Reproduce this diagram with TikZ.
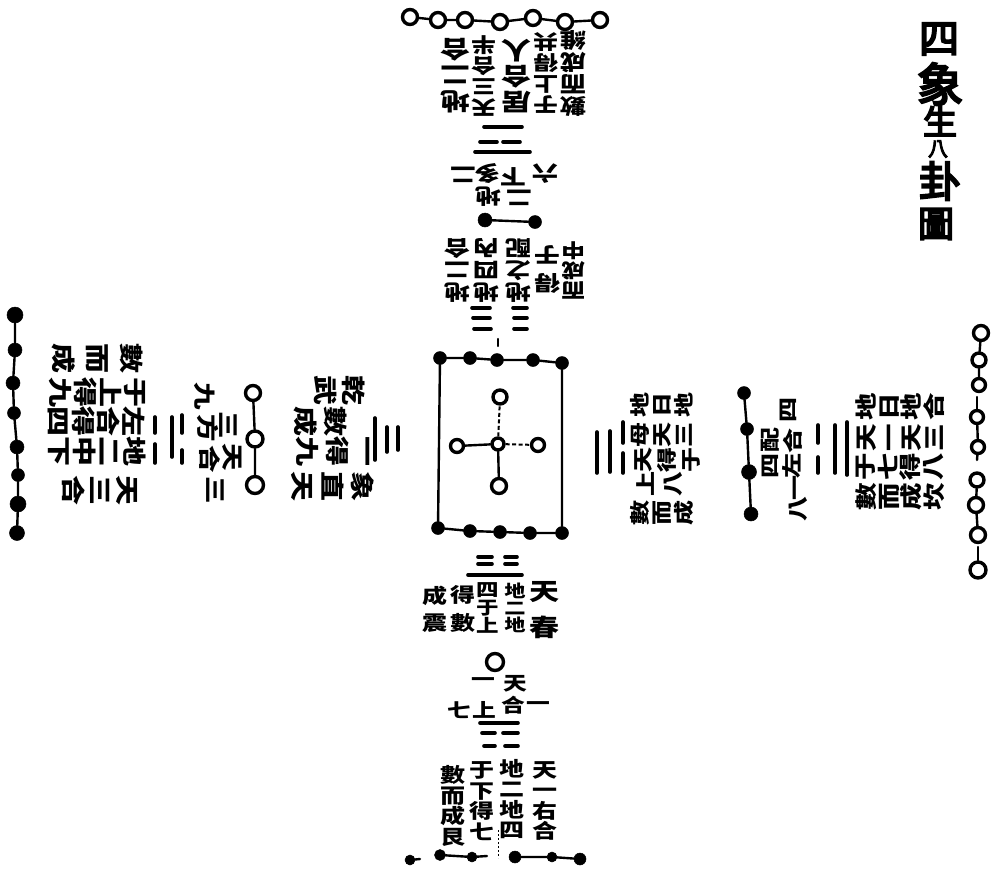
\documentclass[tikz,border=0pt]{standalone}
\usepackage{fontspec}
\newfontfamily\cjkb{Noto Sans CJK TC}[FakeStretch=1.25]
\newfontfamily\cjkt{Noto Sans CJK TC}[FakeBold=5]
\lineskiplimit=-1000pt
\newcommand\cjfont[2]{\cjkb\bfseries\fontsize{#1}{#2}\selectfont}
\newcommand\ttfont[1]{\cjkt\fontsize{#1}{#1}\selectfont}
\tikzset{
  cj/.style 2 args={font=\cjfont{#1}{#2},align=center,inner sep=0pt},
  ttl/.style={font=\ttfont{#1},inner sep=0pt},
  openc/.style={circle,draw=black,fill=white,line width=3.4pt,minimum size=#1,inner sep=0pt},
  fullc/.style={circle,draw=black,fill=black,line width=.5pt,minimum size=#1,inner sep=0pt},
  link/.style={line width=2.4pt,black,line cap=round},
  brk/.style={line width=2pt,black,dash pattern=on 4pt off 2.5pt},
  yao/.style={line width=3.6pt,black,line cap=round},
}
\begin{document}
\begin{tikzpicture}[x=1pt,y=-1pt]
\useasboundingbox (0,0) rectangle (991,873);
% ---- title
\foreach \nm/\sz/\px/\py/\txt in {ta/40/939/39/四,tb/46/940/84/象,tc/34/940/121/生,td/20/938/149/八,te/42/940/181/卦,tf/36/936/224/圖}
  \node[ttl=\sz] (\nm) at (\px,\py) {\txt};
% ---- centre rectangle
\foreach \nm/\px/\py in {ra/440/358,rb/470/358,rc/497/360,rd/533/360,re/562/363,rf/438/528,rg/470/531,rh/500/532,ri/530/533,rj/562/533}
  \node[fullc=13] (\nm) at (\px,\py) {};
\draw[link] (ra)--(rb)--(rc)--(rd)--(re)--(rj)--(ri)--(rh)--(rg)--(rf)--(ra);
\foreach \nm/\px/\py/\sz in {ca/500/397/14,cb/457/446/13,cc/538/445/13,cd/499/486/15,ce/498/444/12}
  \node[openc=\sz] (\nm) at (\px,\py) {};
\draw[brk] (ce)--(ca); \draw[brk] (ce)--(cc);
\draw[link] (ce)--(cb); \draw[link] (ce)--(cd);
\coordinate (ka) at (498,339); \coordinate (kb) at (498,346);
\draw[link] (ka)--(kb);
% ---- top
\foreach \nm/\px/\py in {ua/410/17,ub/438/20,uc/465/20,ud/500/22,ue/533/18,uf/565/22,ug/600/20}
  \node[openc=15] (\nm) at (\px,\py) {};
\draw[link] (ua)--(ub)--(uc)--(ud)--(ue)--(uf)--(ug);
\node[fullc=14] (uh) at (485,220) {};
\node[fullc=13] (ui) at (535,222) {};
\draw[link] (uh)--(ui);
\foreach \nm/\px/\py/\sk/\sz/\txt in {u1/455/76/26/24/地\\二\\合,u2/484/76/21/20/天\\三\\合\\半,u3/516/76/26/24/居\\合\\人,u4/546/73/21/20/于\\上\\得\\共,u5/573/73/22/21/數\\而\\成\\維}
  \node[cj={\sz}{\sk},rotate=180] (\nm) at (\px,\py) {\txt};
\foreach \nm/\px/\py/\txt in {u6/463/175/二,u7/487/174/多,u8/513/177/下,u9/545/174/六,u10/488/197/地,u11/519/198/二}
  \node[cj={21}{21},rotate=180] (\nm) at (\px,\py) {\txt};
\foreach \nm/\px/\py/\sk/\sz/\txt in {u12/457/270/22/21/地\\二\\合,u13/486/270/22/21/地\\四\\內,u14/518/270/22/21/地\\之\\配,u15/547/270/28/21/得\\于,u16/574/270/20/19/而\\成\\中}
  \node[cj={\sz}{\sk},rotate=180] (\nm) at (\px,\py) {\txt};
\foreach \xa/\xb/\ya in {484/522/127,480/497/142,503/520/142,475/530/152}
  {\coordinate (yp) at (\xa,\ya); \coordinate (yq) at (\xb,\ya); \draw[yao] (yp)--(yq);}
\foreach \xa/\xb/\ya in {472/490/308,513/527/308,473/490/318,514/527/318,474/491/329,514/527/329}
  {\coordinate (yp) at (\xa,\ya); \coordinate (yq) at (\xb,\ya); \draw[yao] (yp)--(yq);}
% ---- bottom
\foreach \nm/\px/\py/\sz in {da/410/860/10,db/440/855/11,dc/472/857/10,dd/515/857/12,de/552/857/10,df/580/859/12}
  \node[fullc=\sz] (\nm) at (\px,\py) {};
\draw[link] (db)--(dc); \draw[link] (dd)--(de)--(df);
\coordinate (dg) at (487,856); \coordinate (dh) at (420,859);
\draw[link] (dc)--(dg); \draw[link] (da)--(dh);
\coordinate (di) at (498,830); \coordinate (dj) at (498,858);
\draw[line width=1pt,dash pattern=on 2pt off 2pt] (di)--(dj);
\node[openc=17] (dk) at (495,662) {};
\foreach \nm/\px/\py/\sk/\sz/\txt in {b1/544/610/36/24/天\\春,b2/515/608/17/17/地\\二\\地,b3/488/608/18/18/四\\于\\上,b4/463/609/28/20/得\\數,b5/435/609/27/20/成\\震}
  \node[cj={\sz}{\sk}] (\nm) at (\px,\py) {\txt};
\foreach \nm/\px/\py/\txt in {b6/515/684/天,b7/513/705/合,b8/483/682/一,b9/484/710/上,b10/459/710/七,b11/538/706/一}
  \node[cj={19}{19}] (\nm) at (\px,\py) {\txt};
\foreach \nm/\px/\py/\txt in {b12/545/801/天\\一\\右\\合,b13/512/799/地\\二\\地\\四,b14/482/801/于\\下\\得\\七,b15/453/806/數\\而\\成\\艮}
  \node[cj={20}{20.5}] (\nm) at (\px,\py) {\txt};
\foreach \xa/\xb/\ya in {478/492/557,505/517/557,478/492/564,505/517/564,468/522/575,480/518/723,482/495/733,503/518/733,484/495/746,505/518/746}
  {\coordinate (yp) at (\xa,\ya); \coordinate (yq) at (\xb,\ya); \draw[yao] (yp)--(yq);}
% ---- left
\foreach \nm/\px/\py/\sz in {la/15/315/16,lb/15/350/14,lc/13/383/14,ld/14/413/13,le/17/447/14,lf/18/475/13,lg/18/504/16,lh/17/533/15}
  \node[fullc=\sz] (\nm) at (\px,\py) {};
\draw[link] (la)--(lb)--(lc)--(ld)--(le)--(lf)--(lg)--(lh);
\foreach \nm/\px/\py/\sz in {li/253/393/15,lj/255/439/16,lk/255/485/17}
  \node[openc=\sz] (\nm) at (\px,\py) {};
\draw[link] (li)--(lj)--(lk);
\foreach \nm/\px/\py/\sk/\txt in {l1/100/490/27/天\\三\\合,l2/97/451/25/地\\二\\中\\下,l3/97/421/25/左\\合\\得\\四,l4/97/392/25/于\\上\\得\\九,l5/97/358/34/數\\而\\成}
  \node[cj={24}{\sk},rotate=-90] (\nm) at (\px,\py) {\txt};
\foreach \nm/\px/\py/\txt in {l6/205/396/九,l7/208/428/方,l8/228/425/三,l9/210/459/合,l10/232/457/天,l11/215/490/三}
  \node[cj={22}{22},rotate=-90] (\nm) at (\px,\py) {\txt};
\foreach \nm/\px/\py/\sk/\txt in {l12/333/486/30/象\\直\\天,l13/333/451/30/一\\得\\九,l14/320/421/30/數\\成,l15/340/390/28/乾\\武}
  \node[cj={24}{\sk},rotate=-90] (\nm) at (\px,\py) {\txt};
\foreach \xa/\ya/\yb in {155/417/433,155/444/463,172/417/457,182/415/433,182/450/463,375/418/460,387/427/452,398/427/450}
  {\coordinate (yp) at (\xa,\ya); \coordinate (yq) at (\xa,\yb); \draw[yao] (yp)--(yq);}
% ---- right
\foreach \nm/\px/\py/\sz in {ma/744/393/13,mb/747/429/13,mc/749/472/15,md/751/514/14}
  \node[fullc=\sz] (\nm) at (\px,\py) {};
\draw[link] (ma)--(mb)--(mc)--(md);
\foreach \nm/\px/\py/\sz in {na/981/333/15,nb/979/360/14,nc/979/385/13,nd/977/417/13,ne/978/447/13,nf/977/480/14,ng/976/505/15,nh/978/535/15,ni/978/570/16}
  \node[openc=\sz] (\nm) at (\px,\py) {};
\draw[link] (na)--(nb)--(nc); \draw[link] (nd)--(ne); \draw[link] (nf)--(ng)--(nh);
\coordinate (nj) at (977,397); \coordinate (nk) at (977,460); \coordinate (nl) at (978,547);
\draw[link] (nd)--(nj); \draw[link] (ne)--(nk); \draw[link] (ni)--(nl);
\foreach \nm/\px/\py/\sk/\txt in {r1/662/405/22/地\\日\\地,r2/662/435/22/母\\天\\三}
  \node[cj={20}{\sk},rotate=90] (\nm) at (\px,\py) {\txt};
\foreach \nm/\px/\py/\sk/\txt in {r3/667/460/24/天\\得\\于,r4/660/484/27/上\\八,r5/662/513/22/數\\而\\成}
  \node[cj={20}{\sk},rotate=90] (\nm) at (\px,\py) {\txt};
\foreach \nm/\px/\py/\txt in {r6/788/410/四,r7/770/440/配,r8/793/441/合,r9/770/466/四,r10/792/466/左,r11/798/488/一,r12/798/509/八}
  \node[cj={20}{20},rotate=90] (\nm) at (\px,\py) {\txt};
\foreach \nm/\px/\py/\txt in {r13/900/407/地\\日\\地\\合,r14/900/438/天\\一\\天\\三,r15/900/467/于\\七\\得\\八,r16/900/497/數\\而\\成\\坎}
  \node[cj={22}{22.5},rotate=90] (\nm) at (\px,\py) {\txt};
\foreach \xa/\ya/\yb in {597/432/473,610/431/472,623/422/443,623/453/473,818/425/443,818/457/473,835/425/473,847/422/475}
  {\coordinate (yp) at (\xa,\ya); \coordinate (yq) at (\xa,\yb); \draw[yao] (yp)--(yq);}
\end{tikzpicture}
\end{document}
